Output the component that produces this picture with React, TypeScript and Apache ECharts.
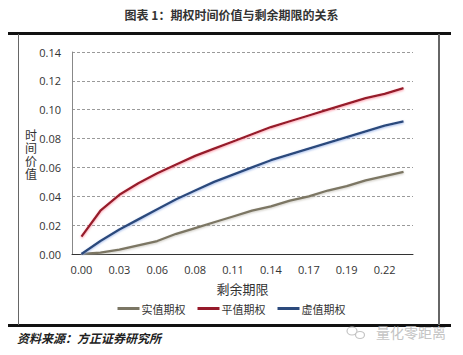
import React, { useEffect, useRef } from "react";
import * as echarts from "echarts";

const categories = [
  "0.00", "0.02", "0.03", "0.04", "0.06", "0.07", "0.08", "0.10", "0.11",
  "0.12", "0.14", "0.15", "0.17", "0.18", "0.19", "0.21", "0.22", "0.24",
];
const itmValues = [0.0, 0.001, 0.003, 0.006, 0.009, 0.014, 0.018, 0.022, 0.026, 0.03, 0.033, 0.037, 0.04, 0.044, 0.047, 0.051, 0.054, 0.057];
const atmValues = [0.012, 0.03, 0.041, 0.049, 0.056, 0.062, 0.068, 0.073, 0.078, 0.083, 0.088, 0.092, 0.096, 0.1, 0.104, 0.108, 0.111, 0.115];
const otmValues = [0.0, 0.009, 0.017, 0.024, 0.031, 0.038, 0.044, 0.05, 0.055, 0.06, 0.065, 0.069, 0.073, 0.077, 0.081, 0.085, 0.089, 0.092];
const seriesNames = ["实值期权", "平值期权", "虚值期权"];
const yAxisChars = ["时", "间", "价", "值"];
const title = "图表 1：期权时间价值与剩余期限的关系";
const source = "资料来源：方正证券研究所";
const watermark = "量化零距离";

export default function App() {
  const ref = useRef<HTMLDivElement>(null);
  useEffect(() => {
    const chart = echarts.init(ref.current!, null, { renderer: "svg" });
    const font = "'Noto Sans CJK SC', 'Noto Sans', sans-serif";
    const mk = (name: string, data: number[], color: string, shadow: string) => ({
      name,
      type: "line",
      data,
      symbol: "none",
      smooth: false,
      lineStyle: { color, width: 2.3, shadowColor: shadow, shadowBlur: 2, shadowOffsetY: 1 },
      itemStyle: { color },
    });
    const yNameTexts = yAxisChars.map((ch, i) => ({
      type: "text",
      x: 31,
      y: 134 + i * 13,
      style: {
        text: ch,
        fontSize: 12,
        lineHeight: 12,
        fill: "#333",
        fontFamily: font,
        align: "center",
        verticalAlign: "middle",
      },
    }));
    chart.setOption({
      animation: false,
      backgroundColor: "#ffffff",
      textStyle: { fontFamily: font },
      grid: { left: 72, right: 50, top: 52, bottom: 101, containLabel: false },
      legend: {
        data: seriesNames,
        left: "center",
        top: 298,
        icon: "rect",
        itemWidth: 22,
        itemHeight: 3,
        itemGap: 12,
        textStyle: { fontSize: 11, color: "#333", fontFamily: font, padding: [0, 0, 0, -3] },
      },
      xAxis: {
        type: "category",
        data: categories,
        boundaryGap: true,
        name: "剩余期限",
        nameLocation: "middle",
        nameGap: 28,
        nameTextStyle: { fontSize: 13, color: "#333", fontFamily: font },
        axisLine: { lineStyle: { color: "#333", width: 1 } },
        axisTick: { show: false },
        axisLabel: { interval: 1, fontSize: 11, color: "#333", margin: 10, fontFamily: "'Open Sans', sans-serif" },
        splitLine: { show: false },
      },
      yAxis: {
        type: "value",
        min: 0,
        max: 0.14,
        interval: 0.02,
        axisLine: { show: true, lineStyle: { color: "#888" } },
        axisTick: { show: false },
        axisLabel: {
          fontSize: 11,
          color: "#333",
          margin: 11,
          fontFamily: "'Open Sans', sans-serif",
          formatter: (v: number) => v.toFixed(2),
        },
        splitLine: { show: true, lineStyle: { color: "#9a9a9a", type: [3, 2], width: 1 } },
      },
      series: [
        mk(seriesNames[0], itmValues, "#7b7664", "rgba(170,165,150,0.6)"),
        mk(seriesNames[1], atmValues, "#961a2a", "rgba(255,130,150,0.8)"),
        mk(seriesNames[2], otmValues, "#2c4a7c", "rgba(140,170,230,0.8)"),
      ],
      graphic: [
        {
          type: "text",
          left: "center",
          top: 8,
          style: { text: title, fontSize: 12, fontWeight: "bold", fill: "#333", fontFamily: font },
        },
        { type: "rect", shape: { x: 8, y: 32, width: 443, height: 3 }, style: { fill: "#111" } },
        { type: "rect", shape: { x: 8, y: 324, width: 443, height: 3 }, style: { fill: "#111" } },
        { type: "line", shape: { x1: 18.5, y1: 34, x2: 18.5, y2: 325 }, style: { stroke: "#666", lineWidth: 1 } },
        { type: "line", shape: { x1: 439, y1: 34, x2: 439, y2: 325 }, style: { stroke: "#666", lineWidth: 2 } },
        ...yNameTexts,
        {
          type: "text",
          x: 17,
          y: 331,
          style: { text: source, fontSize: 12, fontWeight: "bold", fontStyle: "italic", fill: "#222", fontFamily: font },
        },
        { type: "ellipse", shape: { cx: 352, cy: 331, rx: 5, ry: 4 }, style: { fill: "none", stroke: "#c4c4c4", lineWidth: 1.2 } },
        { type: "ellipse", shape: { cx: 360, cy: 335, rx: 4.5, ry: 3.5 }, style: { fill: "#fff", stroke: "#c4c4c4", lineWidth: 1.2 } },
        {
          type: "text",
          x: 376,
          y: 325,
          style: { text: watermark, fontSize: 14, fill: "#c4c4c4", fontFamily: font },
        },
      ],
    });
    return () => chart.dispose();
  }, []);
  return (
    <div
      ref={ref}
      style={{ position: "fixed", left: 0, top: 0, width: 463, height: 355, background: "#fff" }}
    />
  );
}
